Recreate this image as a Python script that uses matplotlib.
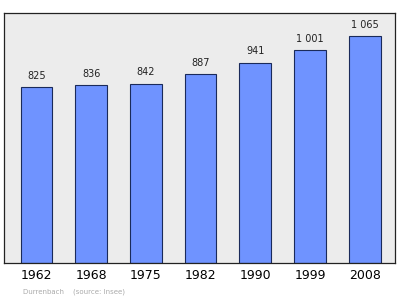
import matplotlib
matplotlib.use("Agg")
import matplotlib.pyplot as plt

years = ["1962", "1968", "1975", "1982", "1990", "1999", "2008"]
population = [825, 836, 842, 887, 941, 1001, 1065]
value_labels = ["825", "836", "842", "887", "941", "1 001", "1 065"]

fig = plt.figure(figsize=(4, 2.99), dpi=100)
ax = fig.add_axes([0.01, 0.1204, 0.9775, 0.8361])
ax.set_facecolor("#ececec")

x = range(len(years))
ax.bar(x, population, width=0.58, color="#6f93ff", edgecolor="#1a2a5a", linewidth=0.8, zorder=2)

for i, v in enumerate(population):
    ax.text(i, v + 30, value_labels[i], ha="center", va="bottom", fontsize=7, color="#222222")

ax.set_xlim(-0.594, 6.554)
ax.set_ylim(0, 1175)
ax.set_yticks([])
ax.set_xticks(list(x))
ax.set_xticklabels(years, fontsize=9)
ax.tick_params(axis="x", length=0, pad=4)
for s in ax.spines.values():
    s.set_color("#222222")
    s.set_linewidth(0.9)

fig.text(0.058, 0.02, "Durrenbach    (source: Insee)", fontsize=5, color="#aaaaaa")

fig.savefig("out.png", dpi=100)
